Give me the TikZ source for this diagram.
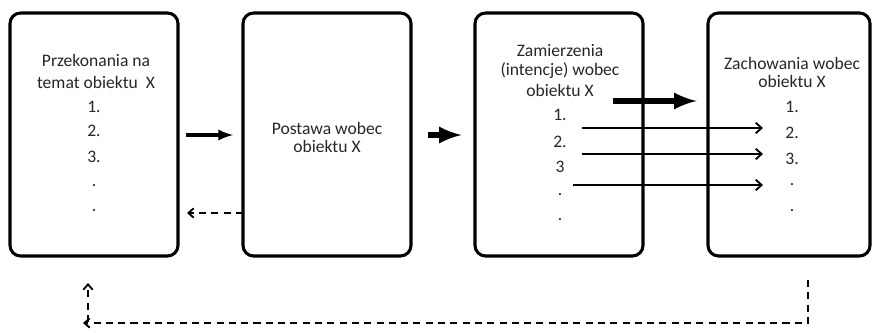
\documentclass[tikz,border=0pt]{standalone}
\usepackage{fontspec}
\setmainfont{Carlito}
\usetikzlibrary{arrows,arrows.meta,positioning}

\begin{document}
\begin{tikzpicture}[x=0.03cm, y=-0.03cm, font=\fontsize{15}{18}\selectfont, text=black!85,
   box/.style={draw=black, line width=2.6pt, rounded corners=9pt, minimum width=5.04cm, minimum height=7.29cm},
   mainarrow/.style={-latex, line width=3.2pt},
   fatarrow/.style={-latex, line width=5.5pt, shorten >=2pt},
   thinarrow/.style={-{Straight Barb[length=5pt,width=9pt]}, line width=1.6pt},
   back/.style={-{Straight Barb[length=4.5pt,width=8pt]}, line width=1.6pt, dash pattern=on 6pt off 4.5pt}]
   \useasboundingbox (0,0) rectangle (873,332);

   \node[box] (b1) at (94,134.5) {};
   \node[box] (b2) at (327,134.5) {};
   \node[box] (b3) at (559,134.5) {};
   \node[box, minimum width=4.86cm] (b4) at (789,134.5) {};

   %przekonania
   \node[] (p0) at (96,60) {Przekonania na};
   \node[] (p1) at (96,82) {temat obiektu\ \ X};
   \node[] (p2) at (94,107) {1.};
   \node[] (p3) at (94,131) {2.};
   \node[] (p4) at (94,157) {3.};
   \node[] (p5) at (94,186) {.};
   \node[] (p6) at (94,211) {.};

   %postawa
   \node[] (s0) at (327,128) {Postawa wobec};
   \node[] (s1) at (327,146) {obiektu X};

   %zamierzenia
   \node[] (z0) at (560,51) {Zamierzenia};
   \node[] (z1) at (560,71) {(intencje) wobec};
   \node[] (z2) at (560,90) {obiektu X};
   \node[] (z3) at (560,115) {1.};
   \node[] (z4) at (560,142) {2.};
   \node[] (z5) at (560,167) {3};
   \node[] (z6) at (560,195) {.};
   \node[] (z7) at (560,220) {.};

   %zachowania
   \node[] (c0) at (792,63) {Zachowania wobec};
   \node[] (c1) at (792,81) {obiektu X};
   \node[] (c2) at (792,107) {1.};
   \node[] (c3) at (792,133) {2.};
   \node[] (c4) at (792,159) {3.};
   \node[] (c5) at (792,185) {.};
   \node[] (c6) at (792,211) {.};

   %free ends
   \coordinate (a0) at (186,135);
   \coordinate (a1) at (233,135);
   \coordinate (a2) at (428,135);
   \coordinate (a3) at (464,135);
   \coordinate (d0) at (243,213);
   \coordinate (d1) at (187,213);
   \coordinate (m0) at (613,101);
   \coordinate (m1) at (699,101);
   \coordinate (t0) at (582,128);
   \coordinate (t1) at (763,128);
   \coordinate (t2) at (582,154);
   \coordinate (t3) at (763,154);
   \coordinate (t4) at (573,185);
   \coordinate (t5) at (763,185);
   \coordinate (f0) at (808,280);
   \coordinate (f1) at (83,323);
   \coordinate (f2) at (88,322);
   \coordinate (f3) at (88,283);

   \draw[mainarrow] (a0) -- (a1);
   \draw[fatarrow] (a2) -- (a3);
   \draw[back] (d0) -- (d1);
   \draw[fatarrow] (m0) -- (m1);
   \draw[thinarrow] (t0) -- (t1);
   \draw[thinarrow] (t2) -- (t3);
   \draw[thinarrow] (t4) -- (t5);
   \draw[back] (f0) |- (f1);
   \draw[back] (f2) -- (f3);
\end{tikzpicture}
\end{document}
